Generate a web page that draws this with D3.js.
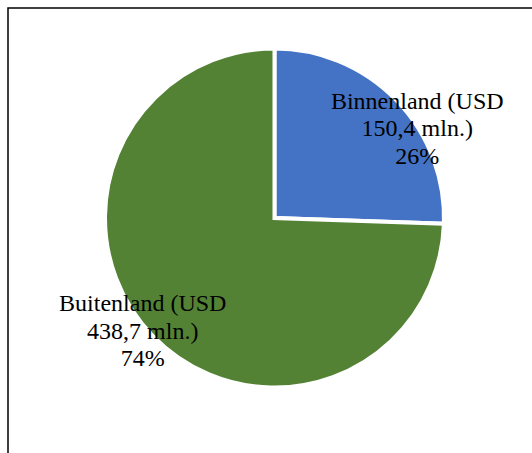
<!DOCTYPE html>
<html>
<head>
<meta charset="utf-8">
<script src="https://cdn.jsdelivr.net/npm/d3@7"></script>
<style>
  html, body { margin: 0; padding: 0; background: #fff; }
  svg { display: block; }
</style>
</head>
<body>
<svg id="chart" width="532" height="453"></svg>
<script>
// Revenue split, USD million
const categories = ["Binnenland", "Buitenland"];
const values = [150.4, 438.7];
const labelLines = [
  ["Binnenland (USD", "150,4 mln.)", "26%"],
  ["Buitenland (USD", "438,7 mln.)", "74%"]
];
const colors = ["#4472C4", "#548235"];

const width = 532, height = 453;
const cx = 274.5, cy = 218, radius = 169.5;

const svg = d3.select("#chart");

// chart frame (open on the right and bottom edges of the window)
svg.append("rect")
  .attr("x", 8).attr("y", 8)
  .attr("width", width + 20).attr("height", height + 20)
  .attr("fill", "#fff")
  .attr("stroke", "#000")
  .attr("stroke-width", 1.5);

const pie = d3.pie().sort(null).value(d => d)(values);
const arc = d3.arc().innerRadius(0).outerRadius(radius);

const g = svg.append("g").attr("transform", `translate(${cx},${cy})`);

g.selectAll("path.slice")
  .data(pie)
  .join("path")
  .attr("class", "slice")
  .attr("d", arc)
  .attr("fill", (d, i) => colors[i])
  .attr("stroke", "#fff")
  .attr("stroke-width", 4)
  .attr("stroke-linejoin", "miter");

// data labels: placed around each slice's outer rim
const labelArc = d3.arc().innerRadius(168).outerRadius(168);
const nudges = [[22, 27], [-11, -4]];
const lineH = 27.3;

g.selectAll("text.lbl")
  .data(pie)
  .join("text")
  .attr("class", "lbl")
  .attr("text-anchor", "middle")
  .attr("font-family", "'Liberation Serif', 'Times New Roman', serif")
  .attr("font-size", 24)
  .attr("fill", "#000")
  .each(function (d, i) {
    const [x, y] = labelArc.centroid(d);
    const px = x + nudges[i][0];
    const py = y + nudges[i][1];
    const t = d3.select(this);
    labelLines[i].forEach((s, k) => {
      t.append("tspan")
        .attr("x", px)
        .attr("y", py - lineH + 8 + k * lineH)
        .text(s);
    });
  });
</script>
</body>
</html>
